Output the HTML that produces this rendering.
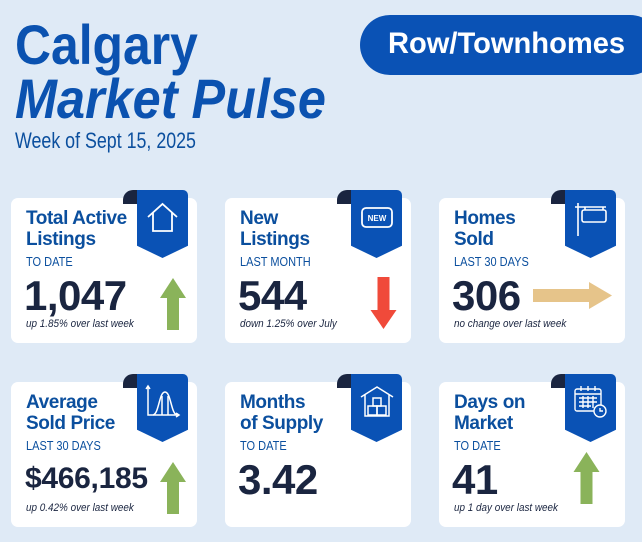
<!DOCTYPE html>
<html><head><meta charset="utf-8"><style>
*{margin:0;padding:0;box-sizing:border-box}
body{width:642px;height:542px;background:#dfeaf6;position:relative;overflow:hidden;font-family:"Liberation Sans",sans-serif}
.a{position:absolute;white-space:nowrap}
.card{position:absolute;width:186px;height:145px;background:#fff;border-radius:7px}
.curl{position:absolute;top:-8px;left:112px;width:24px;height:14px;background:#1a2540;border-radius:10px 0 0 0}
.rib{position:absolute;top:-8px;left:126px;width:51px;height:68px;background:#0a52b5;border-radius:0 5px 0 0;clip-path:polygon(0 0,100% 0,100% 82%,50% 100%,0 82%)}
.rib svg{position:absolute;left:8px;top:10px}
.t{left:15px;top:10px;color:#0b4f9e;font-weight:bold;font-size:19px;line-height:21px;letter-spacing:-0.4px}
.s{left:15px;top:57px;color:#0b4f9e;font-size:12.5px;transform:scaleX(.88);transform-origin:left}
.n{left:13px;top:74px;color:#1a2540;font-weight:bold;font-size:42px;letter-spacing:-0.5px}
.m{left:15px;top:120px;color:#1a2540;font-style:italic;font-size:11px;transform:scaleX(.9);transform-origin:left}
.up,.dn{position:absolute;left:149px;width:26px;height:52px}
</style></head><body>
<div class="a" style="left:15px;top:12px;color:#0b52b0;font-weight:bold;font-size:56px;transform:scaleX(.89);transform-origin:left">Calgary</div>
<div class="a" style="left:15px;top:66px;color:#0b52b0;font-weight:bold;font-style:italic;font-size:56px;transform:scaleX(.9);transform-origin:left">Market Pulse</div>
<div class="a" style="left:15px;top:128px;color:#0b4f9e;font-size:22px;transform:scaleX(.81);transform-origin:left">Week of Sept 15, 2025</div>
<div class="a" style="left:360px;top:15px;width:300px;height:60px;background:#0a52b5;border-radius:30px"></div>
<div class="a" style="left:388px;top:27px;color:#fff;font-weight:bold;font-size:30px;transform:scaleX(.97);transform-origin:left">Row/Townhomes</div>

<!-- card 1 -->
<div class="card" style="left:11px;top:198px">
<div class="curl"></div><div class="rib"><svg width="36" height="36" viewBox="0 0 36 36" fill="none" stroke="#fff" stroke-width="1.8"><path d="M3 17 L17.5 4 L32 17 M8 13 V31 H27 V13"/></svg></div>
<div class="a t">Total Active<br>Listings</div><div class="a s">TO DATE</div>
<div class="a n">1,047</div><div class="a m">up 1.85% over last week</div>
<svg class="up" style="top:80px" viewBox="0 0 26 52"><polygon points="13,0 26,20 19,20 19,52 7,52 7,20 0,20" fill="#8ab35a"/></svg>
</div>
<!-- card 2 -->
<div class="card" style="left:225px;top:198px">
<div class="curl"></div><div class="rib"><svg width="36" height="36" viewBox="0 0 36 36"><rect x="3" y="8" width="30" height="19" rx="4" fill="none" stroke="#fff" stroke-width="1.8"/><text x="18" y="21" fill="#fff" font-size="8" font-weight="bold" text-anchor="middle" font-family="Liberation Sans">NEW</text></svg></div>
<div class="a t">New<br>Listings</div><div class="a s">LAST MONTH</div>
<div class="a n">544</div><div class="a m">down 1.25% over July</div>
<svg class="dn" style="top:79px;left:145px;width:27px" viewBox="0 0 26 52"><polygon points="7,0 19,0 19,33 26,33 13,52 0,33 7,33" fill="#f04a3a"/></svg>
</div>
<!-- card 3 -->
<div class="card" style="left:439px;top:198px">
<div class="curl"></div><div class="rib"><svg width="36" height="38" viewBox="0 0 36 38" fill="none" stroke="#fff" stroke-width="1.6"><path d="M5 3 V36 M2 7 H33 M12 7 V10 M30 7 V10"/><rect x="9" y="10" width="24" height="12" rx="2"/></svg></div>
<div class="a t">Homes<br>Sold</div><div class="a s">LAST 30 DAYS</div>
<div class="a n">306</div><div class="a m">no change over last week</div>
<svg style="position:absolute;left:94px;top:84px;width:79px;height:27px" viewBox="0 0 79 27"><polygon points="0,7 56,7 56,0 79,13.5 56,27 56,20 0,20" fill="#e6c48a"/></svg>
</div>
<!-- card 4 -->
<div class="card" style="left:11px;top:382px">
<div class="curl"></div><div class="rib"><svg width="36" height="36" viewBox="0 0 36 36" fill="none" stroke="#fff" stroke-width="1.5"><path d="M3 2 V31 H34 M1 5 L3 2 L5 5 M31 29 L34 31 L31 33"/><path d="M8 31 C14 30 14 8 20 8 C26 8 26 30 32 31"/><path d="M17 12 V31 M23 12 V31"/></svg></div>
<div class="a t">Average<br>Sold Price</div><div class="a s">LAST 30 DAYS</div>
<div class="a n" style="font-size:30px;top:80px;left:14px;letter-spacing:-0.3px">$466,185</div><div class="a m">up 0.42% over last week</div>
<svg class="up" style="top:80px" viewBox="0 0 26 52"><polygon points="13,0 26,20 19,20 19,52 7,52 7,20 0,20" fill="#8ab35a"/></svg>
</div>
<!-- card 5 -->
<div class="card" style="left:225px;top:382px">
<div class="curl"></div><div class="rib"><svg width="36" height="36" viewBox="0 0 36 36" fill="none" stroke="#fff" stroke-width="1.5"><path d="M2 13 L18 3 L34 13 M6 11 V32 H30 V11"/><rect x="14" y="14" width="8" height="8"/><rect x="9" y="22" width="9" height="9"/><rect x="18" y="22" width="9" height="9"/></svg></div>
<div class="a t">Months<br>of Supply</div><div class="a s">TO DATE</div>
<div class="a n">3.42</div>
</div>
<!-- card 6 -->
<div class="card" style="left:439px;top:382px">
<div class="curl"></div><div class="rib"><svg width="36" height="36" viewBox="0 0 36 36" fill="none" stroke="#fff" stroke-width="1.4"><rect x="2" y="5" width="26" height="22" rx="2"/><path d="M2 10 H28 M8 2 V7 M15 2 V7 M22 2 V7 M6 14 H24 M6 18 H24 M6 22 H18 M10 12 V24 M15 12 V24 M20 12 V24"/><circle cx="27" cy="27" r="6" fill="#0a52b5"/><path d="M27 24 V27 H30"/></svg></div>
<div class="a t">Days on<br>Market</div><div class="a s">TO DATE</div>
<div class="a n">41</div><div class="a m">up 1 day over last week</div>
<svg class="up" style="top:70px;left:134px;width:27px" viewBox="0 0 26 52"><polygon points="13,0 26,20 19,20 19,52 7,52 7,20 0,20" fill="#8ab35a"/></svg>
</div>
</body></html>
